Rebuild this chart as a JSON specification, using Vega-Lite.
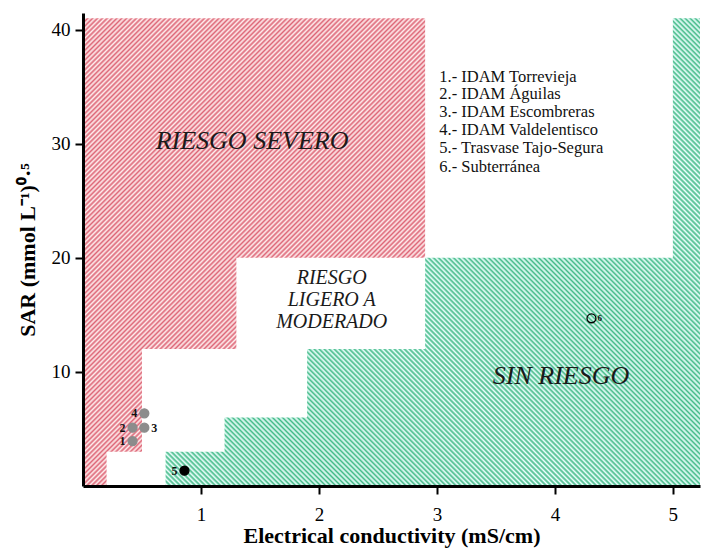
{"$schema":"https://vega.github.io/schema/vega-lite/v6.json","width":617,"height":473,"autosize":{"type":"none"},"padding":{"left":83,"top":13,"right":3,"bottom":65},"background":"white",
"config":{"view":{"stroke":null},"font":"Liberation Serif","axis":{"grid":false,"domainColor":"#000","domainWidth":3,"tickColor":"#000","tickWidth":2,"tickSize":8,"labelFont":"Liberation Serif","labelFontSize":19,"labelColor":"#000","titleFont":"Liberation Serif","titleFontSize":22,"titleFontWeight":"bold","titleColor":"#000"}},
"datasets":{
"red":[{"sar":0,"ec":0.2,"base":0},{"sar":3,"ec":0.5,"base":0},{"sar":12,"ec":1.3,"base":0},{"sar":20,"ec":2.9,"base":0},{"sar":41,"ec":2.9,"base":0}],
"green":[{"sar":0,"ec":0.7,"base":5.23},{"sar":3,"ec":1.2,"base":5.23},{"sar":6,"ec":1.9,"base":5.23},{"sar":12,"ec":2.9,"base":5.23},{"sar":20,"ec":5.0,"base":5.23},{"sar":41,"ec":5.0,"base":5.23}],
"pts":[{"id":1,"ec":0.42,"sar":3.94,"kind":"desal"},{"id":2,"ec":0.42,"sar":5.11,"kind":"desal"},{"id":3,"ec":0.52,"sar":5.11,"kind":"desal"},{"id":4,"ec":0.52,"sar":6.37,"kind":"desal"},{"id":5,"ec":0.86,"sar":1.34,"kind":"trasvase"},{"id":6,"ec":4.31,"sar":14.7,"kind":"subterranea"}],
"notes":[{"txt":"1.- IDAM Torrevieja","ec":3.02,"sar":35.87},{"txt":"2.- IDAM Águilas","ec":3.02,"sar":34.35},{"txt":"3.- IDAM Escombreras","ec":3.02,"sar":32.8},{"txt":"4.- IDAM Valdelentisco","ec":3.02,"sar":31.2},{"txt":"5.- Trasvase Tajo-Segura","ec":3.02,"sar":29.59},{"txt":"6.- Subterránea","ec":3.02,"sar":27.98}],
"zones":[{"txt":"RIESGO SEVERO","ec":1.433,"sar":30.23},{"txt":"SIN RIESGO","ec":4.052,"sar":9.64}],
"mid":[{"txt":"RIESGO","ec":2.108,"sar":18.23},{"txt":"LIGERO A","ec":2.108,"sar":16.3},{"txt":"MODERADO","ec":2.108,"sar":14.37}]
},
"layer":[
{"data":{"name":"red"},"mark":{"type":"area","orient":"horizontal","interpolate":"step-after","color":{"gradient":"linear","x1":0,"y1":0,"x2":0.8248,"y2":1.1281,"stops":[
{"offset":0,"color":"#d67"},{"offset":0.003,"color":"#fee"},{"offset":0.006,"color":"#d67"},{"offset":0.009,"color":"#fee"},{"offset":0.012,"color":"#d67"},{"offset":0.015,"color":"#fee"},{"offset":0.018,"color":"#d67"},{"offset":0.021,"color":"#fee"},{"offset":0.024,"color":"#d67"},{"offset":0.027,"color":"#fee"},
{"offset":0.03,"color":"#d67"},{"offset":0.033,"color":"#fee"},{"offset":0.036,"color":"#d67"},{"offset":0.039,"color":"#fee"},{"offset":0.042,"color":"#d67"},{"offset":0.045,"color":"#fee"},{"offset":0.048,"color":"#d67"},{"offset":0.051,"color":"#fee"},{"offset":0.054,"color":"#d67"},{"offset":0.057,"color":"#fee"},
{"offset":0.06,"color":"#d67"},{"offset":0.063,"color":"#fee"},{"offset":0.066,"color":"#d67"},{"offset":0.069,"color":"#fee"},{"offset":0.072,"color":"#d67"},{"offset":0.075,"color":"#fee"},{"offset":0.078,"color":"#d67"},{"offset":0.081,"color":"#fee"},{"offset":0.084,"color":"#d67"},{"offset":0.087,"color":"#fee"},
{"offset":0.09,"color":"#d67"},{"offset":0.093,"color":"#fee"},{"offset":0.096,"color":"#d67"},{"offset":0.099,"color":"#fee"},{"offset":0.102,"color":"#d67"},{"offset":0.105,"color":"#fee"},{"offset":0.108,"color":"#d67"},{"offset":0.111,"color":"#fee"},{"offset":0.114,"color":"#d67"},{"offset":0.117,"color":"#fee"},
{"offset":0.12,"color":"#d67"},{"offset":0.123,"color":"#fee"},{"offset":0.126,"color":"#d67"},{"offset":0.129,"color":"#fee"},{"offset":0.132,"color":"#d67"},{"offset":0.135,"color":"#fee"},{"offset":0.138,"color":"#d67"},{"offset":0.141,"color":"#fee"},{"offset":0.144,"color":"#d67"},{"offset":0.147,"color":"#fee"},
{"offset":0.15,"color":"#d67"},{"offset":0.153,"color":"#fee"},{"offset":0.156,"color":"#d67"},{"offset":0.159,"color":"#fee"},{"offset":0.162,"color":"#d67"},{"offset":0.165,"color":"#fee"},{"offset":0.168,"color":"#d67"},{"offset":0.171,"color":"#fee"},{"offset":0.174,"color":"#d67"},{"offset":0.177,"color":"#fee"},
{"offset":0.18,"color":"#d67"},{"offset":0.183,"color":"#fee"},{"offset":0.186,"color":"#d67"},{"offset":0.189,"color":"#fee"},{"offset":0.192,"color":"#d67"},{"offset":0.195,"color":"#fee"},{"offset":0.198,"color":"#d67"},{"offset":0.201,"color":"#fee"},{"offset":0.204,"color":"#d67"},{"offset":0.207,"color":"#fee"},
{"offset":0.21,"color":"#d67"},{"offset":0.213,"color":"#fee"},{"offset":0.216,"color":"#d67"},{"offset":0.219,"color":"#fee"},{"offset":0.222,"color":"#d67"},{"offset":0.225,"color":"#fee"},{"offset":0.228,"color":"#d67"},{"offset":0.231,"color":"#fee"},{"offset":0.234,"color":"#d67"},{"offset":0.237,"color":"#fee"},
{"offset":0.24,"color":"#d67"},{"offset":0.243,"color":"#fee"},{"offset":0.246,"color":"#d67"},{"offset":0.249,"color":"#fee"},{"offset":0.252,"color":"#d67"},{"offset":0.255,"color":"#fee"},{"offset":0.258,"color":"#d67"},{"offset":0.261,"color":"#fee"},{"offset":0.264,"color":"#d67"},{"offset":0.267,"color":"#fee"},
{"offset":0.27,"color":"#d67"},{"offset":0.273,"color":"#fee"},{"offset":0.276,"color":"#d67"},{"offset":0.279,"color":"#fee"},{"offset":0.282,"color":"#d67"},{"offset":0.285,"color":"#fee"},{"offset":0.288,"color":"#d67"},{"offset":0.291,"color":"#fee"},{"offset":0.294,"color":"#d67"},{"offset":0.297,"color":"#fee"},
{"offset":0.3,"color":"#d67"},{"offset":0.303,"color":"#fee"},{"offset":0.306,"color":"#d67"},{"offset":0.309,"color":"#fee"},{"offset":0.312,"color":"#d67"},{"offset":0.315,"color":"#fee"},{"offset":0.318,"color":"#d67"},{"offset":0.321,"color":"#fee"},{"offset":0.324,"color":"#d67"},{"offset":0.327,"color":"#fee"},
{"offset":0.33,"color":"#d67"},{"offset":0.333,"color":"#fee"},{"offset":0.336,"color":"#d67"},{"offset":0.339,"color":"#fee"},{"offset":0.342,"color":"#d67"},{"offset":0.345,"color":"#fee"},{"offset":0.348,"color":"#d67"},{"offset":0.351,"color":"#fee"},{"offset":0.354,"color":"#d67"},{"offset":0.357,"color":"#fee"},
{"offset":0.36,"color":"#d67"},{"offset":0.363,"color":"#fee"},{"offset":0.366,"color":"#d67"},{"offset":0.369,"color":"#fee"},{"offset":0.372,"color":"#d67"},{"offset":0.375,"color":"#fee"},{"offset":0.378,"color":"#d67"},{"offset":0.381,"color":"#fee"},{"offset":0.384,"color":"#d67"},{"offset":0.387,"color":"#fee"},
{"offset":0.39,"color":"#d67"},{"offset":0.393,"color":"#fee"},{"offset":0.396,"color":"#d67"},{"offset":0.399,"color":"#fee"},{"offset":0.402,"color":"#d67"},{"offset":0.405,"color":"#fee"},{"offset":0.408,"color":"#d67"},{"offset":0.411,"color":"#fee"},{"offset":0.414,"color":"#d67"},{"offset":0.417,"color":"#fee"},
{"offset":0.42,"color":"#d67"},{"offset":0.423,"color":"#fee"},{"offset":0.426,"color":"#d67"},{"offset":0.429,"color":"#fee"},{"offset":0.432,"color":"#d67"},{"offset":0.435,"color":"#fee"},{"offset":0.438,"color":"#d67"},{"offset":0.441,"color":"#fee"},{"offset":0.444,"color":"#d67"},{"offset":0.447,"color":"#fee"},
{"offset":0.45,"color":"#d67"},{"offset":0.453,"color":"#fee"},{"offset":0.456,"color":"#d67"},{"offset":0.459,"color":"#fee"},{"offset":0.462,"color":"#d67"},{"offset":0.465,"color":"#fee"},{"offset":0.468,"color":"#d67"},{"offset":0.471,"color":"#fee"},{"offset":0.474,"color":"#d67"},{"offset":0.477,"color":"#fee"},
{"offset":0.48,"color":"#d67"},{"offset":0.483,"color":"#fee"},{"offset":0.486,"color":"#d67"},{"offset":0.489,"color":"#fee"},{"offset":0.492,"color":"#d67"},{"offset":0.495,"color":"#fee"},{"offset":0.498,"color":"#d67"},{"offset":0.501,"color":"#fee"},{"offset":0.504,"color":"#d67"},{"offset":0.507,"color":"#fee"},
{"offset":0.51,"color":"#d67"},{"offset":0.513,"color":"#fee"},{"offset":0.516,"color":"#d67"},{"offset":0.519,"color":"#fee"},{"offset":0.522,"color":"#d67"},{"offset":0.525,"color":"#fee"},{"offset":0.528,"color":"#d67"},{"offset":0.531,"color":"#fee"},{"offset":0.534,"color":"#d67"},{"offset":0.537,"color":"#fee"},
{"offset":0.54,"color":"#d67"},{"offset":0.543,"color":"#fee"},{"offset":0.546,"color":"#d67"},{"offset":0.549,"color":"#fee"},{"offset":0.552,"color":"#d67"},{"offset":0.555,"color":"#fee"},{"offset":0.558,"color":"#d67"},{"offset":0.561,"color":"#fee"},{"offset":0.564,"color":"#d67"},{"offset":0.567,"color":"#fee"},
{"offset":0.57,"color":"#d67"},{"offset":0.573,"color":"#fee"},{"offset":0.576,"color":"#d67"},{"offset":0.579,"color":"#fee"},{"offset":0.582,"color":"#d67"},{"offset":0.585,"color":"#fee"},{"offset":0.588,"color":"#d67"},{"offset":0.591,"color":"#fee"},{"offset":0.594,"color":"#d67"},{"offset":0.597,"color":"#fee"},
{"offset":0.6,"color":"#d67"},{"offset":0.603,"color":"#fee"},{"offset":0.606,"color":"#d67"},{"offset":0.609,"color":"#fee"},{"offset":0.612,"color":"#d67"},{"offset":0.615,"color":"#fee"},{"offset":0.618,"color":"#d67"},{"offset":0.621,"color":"#fee"},{"offset":0.624,"color":"#d67"},{"offset":0.627,"color":"#fee"},
{"offset":0.63,"color":"#d67"},{"offset":0.633,"color":"#fee"},{"offset":0.636,"color":"#d67"},{"offset":0.639,"color":"#fee"},{"offset":0.642,"color":"#d67"},{"offset":0.645,"color":"#fee"},{"offset":0.648,"color":"#d67"},{"offset":0.651,"color":"#fee"},{"offset":0.654,"color":"#d67"},{"offset":0.657,"color":"#fee"},
{"offset":0.66,"color":"#d67"},{"offset":0.663,"color":"#fee"},{"offset":0.666,"color":"#d67"},{"offset":0.669,"color":"#fee"},{"offset":0.672,"color":"#d67"},{"offset":0.675,"color":"#fee"},{"offset":0.678,"color":"#d67"},{"offset":0.681,"color":"#fee"},{"offset":0.684,"color":"#d67"},{"offset":0.687,"color":"#fee"},
{"offset":0.69,"color":"#d67"},{"offset":0.693,"color":"#fee"},{"offset":0.696,"color":"#d67"},{"offset":0.699,"color":"#fee"},{"offset":0.702,"color":"#d67"},{"offset":0.705,"color":"#fee"},{"offset":0.708,"color":"#d67"},{"offset":0.711,"color":"#fee"},{"offset":0.714,"color":"#d67"},{"offset":0.717,"color":"#fee"},
{"offset":0.72,"color":"#d67"},{"offset":0.723,"color":"#fee"},{"offset":0.726,"color":"#d67"},{"offset":0.729,"color":"#fee"},{"offset":0.732,"color":"#d67"},{"offset":0.735,"color":"#fee"},{"offset":0.738,"color":"#d67"},{"offset":0.741,"color":"#fee"},{"offset":0.744,"color":"#d67"},{"offset":0.747,"color":"#fee"},
{"offset":0.75,"color":"#d67"},{"offset":0.753,"color":"#fee"},{"offset":0.756,"color":"#d67"},{"offset":0.759,"color":"#fee"},{"offset":0.762,"color":"#d67"},{"offset":0.765,"color":"#fee"},{"offset":0.768,"color":"#d67"},{"offset":0.771,"color":"#fee"},{"offset":0.774,"color":"#d67"},{"offset":0.777,"color":"#fee"},
{"offset":0.78,"color":"#d67"},{"offset":0.783,"color":"#fee"},{"offset":0.786,"color":"#d67"},{"offset":0.789,"color":"#fee"},{"offset":0.792,"color":"#d67"},{"offset":0.795,"color":"#fee"},{"offset":0.798,"color":"#d67"},{"offset":0.801,"color":"#fee"},{"offset":0.804,"color":"#d67"},{"offset":0.807,"color":"#fee"},
{"offset":0.81,"color":"#d67"},{"offset":0.813,"color":"#fee"},{"offset":0.816,"color":"#d67"},{"offset":0.819,"color":"#fee"},{"offset":0.822,"color":"#d67"},{"offset":0.825,"color":"#fee"},{"offset":0.828,"color":"#d67"},{"offset":0.831,"color":"#fee"},{"offset":0.834,"color":"#d67"},{"offset":0.837,"color":"#fee"},
{"offset":0.84,"color":"#d67"},{"offset":0.843,"color":"#fee"},{"offset":0.846,"color":"#d67"},{"offset":0.849,"color":"#fee"},{"offset":0.852,"color":"#d67"},{"offset":0.855,"color":"#fee"},{"offset":0.858,"color":"#d67"},{"offset":0.861,"color":"#fee"},{"offset":0.864,"color":"#d67"},{"offset":0.867,"color":"#fee"},
{"offset":0.87,"color":"#d67"},{"offset":0.873,"color":"#fee"},{"offset":0.876,"color":"#d67"},{"offset":0.879,"color":"#fee"},{"offset":0.882,"color":"#d67"},{"offset":0.885,"color":"#fee"},{"offset":0.888,"color":"#d67"},{"offset":0.891,"color":"#fee"},{"offset":0.894,"color":"#d67"},{"offset":0.897,"color":"#fee"},
{"offset":0.9,"color":"#d67"},{"offset":0.903,"color":"#fee"},{"offset":0.906,"color":"#d67"},{"offset":0.909,"color":"#fee"},{"offset":0.912,"color":"#d67"},{"offset":0.915,"color":"#fee"},{"offset":0.918,"color":"#d67"},{"offset":0.921,"color":"#fee"},{"offset":0.924,"color":"#d67"},{"offset":0.927,"color":"#fee"},
{"offset":0.93,"color":"#d67"},{"offset":0.933,"color":"#fee"},{"offset":0.936,"color":"#d67"},{"offset":0.939,"color":"#fee"},{"offset":0.942,"color":"#d67"},{"offset":0.945,"color":"#fee"},{"offset":0.948,"color":"#d67"},{"offset":0.951,"color":"#fee"},{"offset":0.954,"color":"#d67"},{"offset":0.957,"color":"#fee"},
{"offset":0.96,"color":"#d67"},{"offset":0.963,"color":"#fee"},{"offset":0.966,"color":"#d67"},{"offset":0.969,"color":"#fee"},{"offset":0.972,"color":"#d67"},{"offset":0.975,"color":"#fee"},{"offset":0.978,"color":"#d67"},{"offset":0.981,"color":"#fee"},{"offset":0.984,"color":"#d67"},{"offset":0.987,"color":"#fee"},
{"offset":0.99,"color":"#d67"},{"offset":0.993,"color":"#fee"},{"offset":0.996,"color":"#d67"},{"offset":0.999,"color":"#fee"}
]}},
"encoding":{"y":{"field":"sar","type":"quantitative","scale":{"domain":[0,41.45],"nice":false,"zero":false},"axis":{"zindex":2,"values":[10,20,30,40],"format":"d","title":"SAR (mmol L⁻¹)⁰·⁵","titlePadding":12,"labelPadding":5}},"x":{"field":"ec","type":"quantitative","scale":{"domain":[0,5.23],"nice":false,"zero":false},"axis":{"zindex":2,"values":[1,2,3,4,5],"format":"d","title":"Electrical conductivity (mS/cm)","titlePadding":1,"labelPadding":11}},"x2":{"field":"base"}}},
{"data":{"name":"green"},"mark":{"type":"area","orient":"horizontal","interpolate":"step-after","color":{"gradient":"linear","x1":0,"y1":1,"x2":1.0617,"y2":0.0704,"stops":[
{"offset":0,"color":"#4b8"},{"offset":0.0025,"color":"#eff"},{"offset":0.005,"color":"#4b8"},{"offset":0.0075,"color":"#eff"},{"offset":0.01,"color":"#4b8"},{"offset":0.0125,"color":"#eff"},{"offset":0.015,"color":"#4b8"},{"offset":0.0175,"color":"#eff"},{"offset":0.02,"color":"#4b8"},{"offset":0.0225,"color":"#eff"},{"offset":0.025,"color":"#4b8"},{"offset":0.0275,"color":"#eff"},{"offset":0.03,"color":"#4b8"},{"offset":0.0325,"color":"#eff"},{"offset":0.035,"color":"#4b8"},{"offset":0.0375,"color":"#eff"},{"offset":0.04,"color":"#4b8"},{"offset":0.0425,"color":"#eff"},{"offset":0.045,"color":"#4b8"},{"offset":0.0475,"color":"#eff"},
{"offset":0.05,"color":"#4b8"},{"offset":0.0525,"color":"#eff"},{"offset":0.055,"color":"#4b8"},{"offset":0.0575,"color":"#eff"},{"offset":0.06,"color":"#4b8"},{"offset":0.0625,"color":"#eff"},{"offset":0.065,"color":"#4b8"},{"offset":0.0675,"color":"#eff"},{"offset":0.07,"color":"#4b8"},{"offset":0.0725,"color":"#eff"},{"offset":0.075,"color":"#4b8"},{"offset":0.0775,"color":"#eff"},{"offset":0.08,"color":"#4b8"},{"offset":0.0825,"color":"#eff"},{"offset":0.085,"color":"#4b8"},{"offset":0.0875,"color":"#eff"},{"offset":0.09,"color":"#4b8"},{"offset":0.0925,"color":"#eff"},{"offset":0.095,"color":"#4b8"},{"offset":0.0975,"color":"#eff"},
{"offset":0.1,"color":"#4b8"},{"offset":0.1025,"color":"#eff"},{"offset":0.105,"color":"#4b8"},{"offset":0.1075,"color":"#eff"},{"offset":0.11,"color":"#4b8"},{"offset":0.1125,"color":"#eff"},{"offset":0.115,"color":"#4b8"},{"offset":0.1175,"color":"#eff"},{"offset":0.12,"color":"#4b8"},{"offset":0.1225,"color":"#eff"},{"offset":0.125,"color":"#4b8"},{"offset":0.1275,"color":"#eff"},{"offset":0.13,"color":"#4b8"},{"offset":0.1325,"color":"#eff"},{"offset":0.135,"color":"#4b8"},{"offset":0.1375,"color":"#eff"},{"offset":0.14,"color":"#4b8"},{"offset":0.1425,"color":"#eff"},{"offset":0.145,"color":"#4b8"},{"offset":0.1475,"color":"#eff"},
{"offset":0.15,"color":"#4b8"},{"offset":0.1525,"color":"#eff"},{"offset":0.155,"color":"#4b8"},{"offset":0.1575,"color":"#eff"},{"offset":0.16,"color":"#4b8"},{"offset":0.1625,"color":"#eff"},{"offset":0.165,"color":"#4b8"},{"offset":0.1675,"color":"#eff"},{"offset":0.17,"color":"#4b8"},{"offset":0.1725,"color":"#eff"},{"offset":0.175,"color":"#4b8"},{"offset":0.1775,"color":"#eff"},{"offset":0.18,"color":"#4b8"},{"offset":0.1825,"color":"#eff"},{"offset":0.185,"color":"#4b8"},{"offset":0.1875,"color":"#eff"},{"offset":0.19,"color":"#4b8"},{"offset":0.1925,"color":"#eff"},{"offset":0.195,"color":"#4b8"},{"offset":0.1975,"color":"#eff"},
{"offset":0.2,"color":"#4b8"},{"offset":0.2025,"color":"#eff"},{"offset":0.205,"color":"#4b8"},{"offset":0.2075,"color":"#eff"},{"offset":0.21,"color":"#4b8"},{"offset":0.2125,"color":"#eff"},{"offset":0.215,"color":"#4b8"},{"offset":0.2175,"color":"#eff"},{"offset":0.22,"color":"#4b8"},{"offset":0.2225,"color":"#eff"},{"offset":0.225,"color":"#4b8"},{"offset":0.2275,"color":"#eff"},{"offset":0.23,"color":"#4b8"},{"offset":0.2325,"color":"#eff"},{"offset":0.235,"color":"#4b8"},{"offset":0.2375,"color":"#eff"},{"offset":0.24,"color":"#4b8"},{"offset":0.2425,"color":"#eff"},{"offset":0.245,"color":"#4b8"},{"offset":0.2475,"color":"#eff"},
{"offset":0.25,"color":"#4b8"},{"offset":0.2525,"color":"#eff"},{"offset":0.255,"color":"#4b8"},{"offset":0.2575,"color":"#eff"},{"offset":0.26,"color":"#4b8"},{"offset":0.2625,"color":"#eff"},{"offset":0.265,"color":"#4b8"},{"offset":0.2675,"color":"#eff"},{"offset":0.27,"color":"#4b8"},{"offset":0.2725,"color":"#eff"},{"offset":0.275,"color":"#4b8"},{"offset":0.2775,"color":"#eff"},{"offset":0.28,"color":"#4b8"},{"offset":0.2825,"color":"#eff"},{"offset":0.285,"color":"#4b8"},{"offset":0.2875,"color":"#eff"},{"offset":0.29,"color":"#4b8"},{"offset":0.2925,"color":"#eff"},{"offset":0.295,"color":"#4b8"},{"offset":0.2975,"color":"#eff"},
{"offset":0.3,"color":"#4b8"},{"offset":0.3025,"color":"#eff"},{"offset":0.305,"color":"#4b8"},{"offset":0.3075,"color":"#eff"},{"offset":0.31,"color":"#4b8"},{"offset":0.3125,"color":"#eff"},{"offset":0.315,"color":"#4b8"},{"offset":0.3175,"color":"#eff"},{"offset":0.32,"color":"#4b8"},{"offset":0.3225,"color":"#eff"},{"offset":0.325,"color":"#4b8"},{"offset":0.3275,"color":"#eff"},{"offset":0.33,"color":"#4b8"},{"offset":0.3325,"color":"#eff"},{"offset":0.335,"color":"#4b8"},{"offset":0.3375,"color":"#eff"},{"offset":0.34,"color":"#4b8"},{"offset":0.3425,"color":"#eff"},{"offset":0.345,"color":"#4b8"},{"offset":0.3475,"color":"#eff"},
{"offset":0.35,"color":"#4b8"},{"offset":0.3525,"color":"#eff"},{"offset":0.355,"color":"#4b8"},{"offset":0.3575,"color":"#eff"},{"offset":0.36,"color":"#4b8"},{"offset":0.3625,"color":"#eff"},{"offset":0.365,"color":"#4b8"},{"offset":0.3675,"color":"#eff"},{"offset":0.37,"color":"#4b8"},{"offset":0.3725,"color":"#eff"},{"offset":0.375,"color":"#4b8"},{"offset":0.3775,"color":"#eff"},{"offset":0.38,"color":"#4b8"},{"offset":0.3825,"color":"#eff"},{"offset":0.385,"color":"#4b8"},{"offset":0.3875,"color":"#eff"},{"offset":0.39,"color":"#4b8"},{"offset":0.3925,"color":"#eff"},{"offset":0.395,"color":"#4b8"},{"offset":0.3975,"color":"#eff"},
{"offset":0.4,"color":"#4b8"},{"offset":0.4025,"color":"#eff"},{"offset":0.405,"color":"#4b8"},{"offset":0.4075,"color":"#eff"},{"offset":0.41,"color":"#4b8"},{"offset":0.4125,"color":"#eff"},{"offset":0.415,"color":"#4b8"},{"offset":0.4175,"color":"#eff"},{"offset":0.42,"color":"#4b8"},{"offset":0.4225,"color":"#eff"},{"offset":0.425,"color":"#4b8"},{"offset":0.4275,"color":"#eff"},{"offset":0.43,"color":"#4b8"},{"offset":0.4325,"color":"#eff"},{"offset":0.435,"color":"#4b8"},{"offset":0.4375,"color":"#eff"},{"offset":0.44,"color":"#4b8"},{"offset":0.4425,"color":"#eff"},{"offset":0.445,"color":"#4b8"},{"offset":0.4475,"color":"#eff"},
{"offset":0.45,"color":"#4b8"},{"offset":0.4525,"color":"#eff"},{"offset":0.455,"color":"#4b8"},{"offset":0.4575,"color":"#eff"},{"offset":0.46,"color":"#4b8"},{"offset":0.4625,"color":"#eff"},{"offset":0.465,"color":"#4b8"},{"offset":0.4675,"color":"#eff"},{"offset":0.47,"color":"#4b8"},{"offset":0.4725,"color":"#eff"},{"offset":0.475,"color":"#4b8"},{"offset":0.4775,"color":"#eff"},{"offset":0.48,"color":"#4b8"},{"offset":0.4825,"color":"#eff"},{"offset":0.485,"color":"#4b8"},{"offset":0.4875,"color":"#eff"},{"offset":0.49,"color":"#4b8"},{"offset":0.4925,"color":"#eff"},{"offset":0.495,"color":"#4b8"},{"offset":0.4975,"color":"#eff"},
{"offset":0.5,"color":"#4b8"},{"offset":0.5025,"color":"#eff"},{"offset":0.505,"color":"#4b8"},{"offset":0.5075,"color":"#eff"},{"offset":0.51,"color":"#4b8"},{"offset":0.5125,"color":"#eff"},{"offset":0.515,"color":"#4b8"},{"offset":0.5175,"color":"#eff"},{"offset":0.52,"color":"#4b8"},{"offset":0.5225,"color":"#eff"},{"offset":0.525,"color":"#4b8"},{"offset":0.5275,"color":"#eff"},{"offset":0.53,"color":"#4b8"},{"offset":0.5325,"color":"#eff"},{"offset":0.535,"color":"#4b8"},{"offset":0.5375,"color":"#eff"},{"offset":0.54,"color":"#4b8"},{"offset":0.5425,"color":"#eff"},{"offset":0.545,"color":"#4b8"},{"offset":0.5475,"color":"#eff"},
{"offset":0.55,"color":"#4b8"},{"offset":0.5525,"color":"#eff"},{"offset":0.555,"color":"#4b8"},{"offset":0.5575,"color":"#eff"},{"offset":0.56,"color":"#4b8"},{"offset":0.5625,"color":"#eff"},{"offset":0.565,"color":"#4b8"},{"offset":0.5675,"color":"#eff"},{"offset":0.57,"color":"#4b8"},{"offset":0.5725,"color":"#eff"},{"offset":0.575,"color":"#4b8"},{"offset":0.5775,"color":"#eff"},{"offset":0.58,"color":"#4b8"},{"offset":0.5825,"color":"#eff"},{"offset":0.585,"color":"#4b8"},{"offset":0.5875,"color":"#eff"},{"offset":0.59,"color":"#4b8"},{"offset":0.5925,"color":"#eff"},{"offset":0.595,"color":"#4b8"},{"offset":0.5975,"color":"#eff"},
{"offset":0.6,"color":"#4b8"},{"offset":0.6025,"color":"#eff"},{"offset":0.605,"color":"#4b8"},{"offset":0.6075,"color":"#eff"},{"offset":0.61,"color":"#4b8"},{"offset":0.6125,"color":"#eff"},{"offset":0.615,"color":"#4b8"},{"offset":0.6175,"color":"#eff"},{"offset":0.62,"color":"#4b8"},{"offset":0.6225,"color":"#eff"},{"offset":0.625,"color":"#4b8"},{"offset":0.6275,"color":"#eff"},{"offset":0.63,"color":"#4b8"},{"offset":0.6325,"color":"#eff"},{"offset":0.635,"color":"#4b8"},{"offset":0.6375,"color":"#eff"},{"offset":0.64,"color":"#4b8"},{"offset":0.6425,"color":"#eff"},{"offset":0.645,"color":"#4b8"},{"offset":0.6475,"color":"#eff"},
{"offset":0.65,"color":"#4b8"},{"offset":0.6525,"color":"#eff"},{"offset":0.655,"color":"#4b8"},{"offset":0.6575,"color":"#eff"},{"offset":0.66,"color":"#4b8"},{"offset":0.6625,"color":"#eff"},{"offset":0.665,"color":"#4b8"},{"offset":0.6675,"color":"#eff"},{"offset":0.67,"color":"#4b8"},{"offset":0.6725,"color":"#eff"},{"offset":0.675,"color":"#4b8"},{"offset":0.6775,"color":"#eff"},{"offset":0.68,"color":"#4b8"},{"offset":0.6825,"color":"#eff"},{"offset":0.685,"color":"#4b8"},{"offset":0.6875,"color":"#eff"},{"offset":0.69,"color":"#4b8"},{"offset":0.6925,"color":"#eff"},{"offset":0.695,"color":"#4b8"},{"offset":0.6975,"color":"#eff"},
{"offset":0.7,"color":"#4b8"},{"offset":0.7025,"color":"#eff"},{"offset":0.705,"color":"#4b8"},{"offset":0.7075,"color":"#eff"},{"offset":0.71,"color":"#4b8"},{"offset":0.7125,"color":"#eff"},{"offset":0.715,"color":"#4b8"},{"offset":0.7175,"color":"#eff"},{"offset":0.72,"color":"#4b8"},{"offset":0.7225,"color":"#eff"},{"offset":0.725,"color":"#4b8"},{"offset":0.7275,"color":"#eff"},{"offset":0.73,"color":"#4b8"},{"offset":0.7325,"color":"#eff"},{"offset":0.735,"color":"#4b8"},{"offset":0.7375,"color":"#eff"},{"offset":0.74,"color":"#4b8"},{"offset":0.7425,"color":"#eff"},{"offset":0.745,"color":"#4b8"},{"offset":0.7475,"color":"#eff"},
{"offset":0.75,"color":"#4b8"},{"offset":0.7525,"color":"#eff"},{"offset":0.755,"color":"#4b8"},{"offset":0.7575,"color":"#eff"},{"offset":0.76,"color":"#4b8"},{"offset":0.7625,"color":"#eff"},{"offset":0.765,"color":"#4b8"},{"offset":0.7675,"color":"#eff"},{"offset":0.77,"color":"#4b8"},{"offset":0.7725,"color":"#eff"},{"offset":0.775,"color":"#4b8"},{"offset":0.7775,"color":"#eff"},{"offset":0.78,"color":"#4b8"},{"offset":0.7825,"color":"#eff"},{"offset":0.785,"color":"#4b8"},{"offset":0.7875,"color":"#eff"},{"offset":0.79,"color":"#4b8"},{"offset":0.7925,"color":"#eff"},{"offset":0.795,"color":"#4b8"},{"offset":0.7975,"color":"#eff"},
{"offset":0.8,"color":"#4b8"},{"offset":0.8025,"color":"#eff"},{"offset":0.805,"color":"#4b8"},{"offset":0.8075,"color":"#eff"},{"offset":0.81,"color":"#4b8"},{"offset":0.8125,"color":"#eff"},{"offset":0.815,"color":"#4b8"},{"offset":0.8175,"color":"#eff"},{"offset":0.82,"color":"#4b8"},{"offset":0.8225,"color":"#eff"},{"offset":0.825,"color":"#4b8"},{"offset":0.8275,"color":"#eff"},{"offset":0.83,"color":"#4b8"},{"offset":0.8325,"color":"#eff"},{"offset":0.835,"color":"#4b8"},{"offset":0.8375,"color":"#eff"},{"offset":0.84,"color":"#4b8"},{"offset":0.8425,"color":"#eff"},{"offset":0.845,"color":"#4b8"},{"offset":0.8475,"color":"#eff"},
{"offset":0.85,"color":"#4b8"},{"offset":0.8525,"color":"#eff"},{"offset":0.855,"color":"#4b8"},{"offset":0.8575,"color":"#eff"},{"offset":0.86,"color":"#4b8"},{"offset":0.8625,"color":"#eff"},{"offset":0.865,"color":"#4b8"},{"offset":0.8675,"color":"#eff"},{"offset":0.87,"color":"#4b8"},{"offset":0.8725,"color":"#eff"},{"offset":0.875,"color":"#4b8"},{"offset":0.8775,"color":"#eff"},{"offset":0.88,"color":"#4b8"},{"offset":0.8825,"color":"#eff"},{"offset":0.885,"color":"#4b8"},{"offset":0.8875,"color":"#eff"},{"offset":0.89,"color":"#4b8"},{"offset":0.8925,"color":"#eff"},{"offset":0.895,"color":"#4b8"},{"offset":0.8975,"color":"#eff"},
{"offset":0.9,"color":"#4b8"},{"offset":0.9025,"color":"#eff"},{"offset":0.905,"color":"#4b8"},{"offset":0.9075,"color":"#eff"},{"offset":0.91,"color":"#4b8"},{"offset":0.9125,"color":"#eff"},{"offset":0.915,"color":"#4b8"},{"offset":0.9175,"color":"#eff"},{"offset":0.92,"color":"#4b8"},{"offset":0.9225,"color":"#eff"},{"offset":0.925,"color":"#4b8"},{"offset":0.9275,"color":"#eff"},{"offset":0.93,"color":"#4b8"},{"offset":0.9325,"color":"#eff"},{"offset":0.935,"color":"#4b8"},{"offset":0.9375,"color":"#eff"},{"offset":0.94,"color":"#4b8"},{"offset":0.9425,"color":"#eff"},{"offset":0.945,"color":"#4b8"},{"offset":0.9475,"color":"#eff"},
{"offset":0.95,"color":"#4b8"},{"offset":0.9525,"color":"#eff"},{"offset":0.955,"color":"#4b8"},{"offset":0.9575,"color":"#eff"},{"offset":0.96,"color":"#4b8"},{"offset":0.9625,"color":"#eff"},{"offset":0.965,"color":"#4b8"},{"offset":0.9675,"color":"#eff"},{"offset":0.97,"color":"#4b8"},{"offset":0.9725,"color":"#eff"},{"offset":0.975,"color":"#4b8"},{"offset":0.9775,"color":"#eff"},{"offset":0.98,"color":"#4b8"},{"offset":0.9825,"color":"#eff"},{"offset":0.985,"color":"#4b8"},{"offset":0.9875,"color":"#eff"},{"offset":0.99,"color":"#4b8"},{"offset":0.9925,"color":"#eff"},{"offset":0.995,"color":"#4b8"},{"offset":0.9975,"color":"#eff"},
{"offset":1,"color":"#4b8"}
]}},
"encoding":{"y":{"field":"sar","type":"quantitative"},"x":{"field":"ec","type":"quantitative"},"x2":{"field":"base"}}},
{"data":{"name":"notes"},"mark":{"type":"text","align":"left","baseline":"middle","font":"Liberation Serif","fontSize":16.5,"color":"#111"},"encoding":{"x":{"field":"ec","type":"quantitative"},"y":{"field":"sar","type":"quantitative"},"text":{"field":"txt"}}},
{"data":{"name":"zones"},"mark":{"type":"text","align":"center","baseline":"middle","font":"Liberation Serif","fontStyle":"italic","fontSize":26,"color":"#1a1a1a"},"encoding":{"x":{"field":"ec","type":"quantitative"},"y":{"field":"sar","type":"quantitative"},"text":{"field":"txt"}}},
{"data":{"name":"mid"},"mark":{"type":"text","align":"center","baseline":"middle","font":"Liberation Serif","fontStyle":"italic","fontSize":20,"color":"#1a1a1a"},"encoding":{"x":{"field":"ec","type":"quantitative"},"y":{"field":"sar","type":"quantitative"},"text":{"field":"txt"}}},
{"data":{"name":"pts"},"mark":{"type":"point","shape":"circle","filled":true,"size":80,"strokeWidth":1.3,"opacity":1},"encoding":{"x":{"field":"ec","type":"quantitative"},"y":{"field":"sar","type":"quantitative"},"fill":{"field":"kind","type":"nominal","scale":{"domain":["desal","trasvase","subterranea"],"range":["#8c8c8c","#000000","transparent"]},"legend":null},"stroke":{"field":"kind","type":"nominal","scale":{"domain":["desal","trasvase","subterranea"],"range":["#8c8c8c","#000000","#000000"]},"legend":null}}},
{"data":{"name":"pts"},"transform":[{"filter":{"field":"id","oneOf":[1,2,4,5]}}],"mark":{"type":"text","align":"right","baseline":"middle","dx":-7,"font":"Liberation Serif","fontWeight":"bold","fontSize":12,"color":"#111"},"encoding":{"x":{"field":"ec","type":"quantitative"},"y":{"field":"sar","type":"quantitative"},"text":{"field":"id"}}},
{"data":{"name":"pts"},"transform":[{"filter":{"field":"id","oneOf":[3]}}],"mark":{"type":"text","align":"left","baseline":"middle","dx":7,"font":"Liberation Serif","fontWeight":"bold","fontSize":12,"color":"#111"},"encoding":{"x":{"field":"ec","type":"quantitative"},"y":{"field":"sar","type":"quantitative"},"text":{"field":"id"}}},
{"data":{"name":"pts"},"transform":[{"filter":{"field":"id","oneOf":[6]}}],"mark":{"type":"text","align":"left","baseline":"middle","dx":6,"font":"Liberation Serif","fontWeight":"bold","fontSize":9,"color":"#111"},"encoding":{"x":{"field":"ec","type":"quantitative"},"y":{"field":"sar","type":"quantitative"},"text":{"field":"id"}}}
]}
